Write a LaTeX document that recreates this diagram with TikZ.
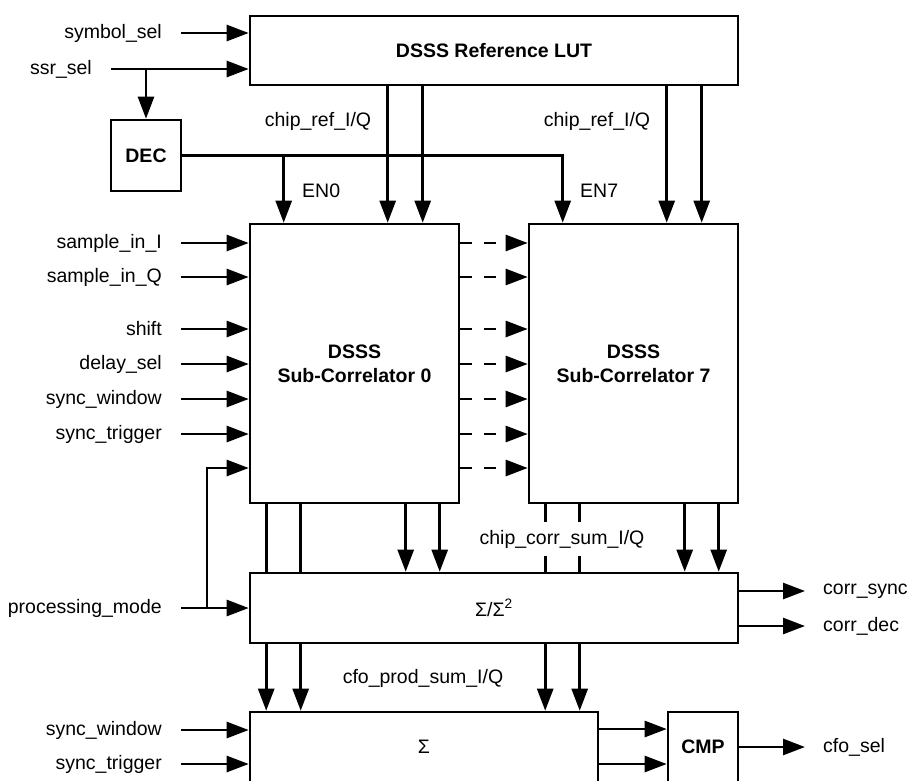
\documentclass[tikz,border=0pt]{standalone}
\usepackage{fontspec}
\setmainfont{Liberation Sans}
\usepackage{tikz}
\usetikzlibrary{arrows.meta,calc,positioning}
\newcommand\lblfont{\fontsize{19.5}{24}\selectfont}
\tikzset{
  blk/.style={draw,line width=2.6pt,inner sep=0pt,font=\lblfont},
  bblk/.style={blk,font=\lblfont\bfseries},
  wire/.style={line width=2.6pt},
  sig/.style={line width=2.6pt,-{Triangle[length=22pt,width=16pt]}},
  dsig/.style={sig,dash pattern=on 12pt off 12pt},
  inlbl/.style={anchor=east,inner sep=0pt},
  outlbl/.style={anchor=west,inner sep=0pt},
}

\begin{document}
\begin{tikzpicture}[x=1pt,y=-1pt,font=\lblfont]
\fill[white] (0,0) rectangle (907,780);
\useasboundingbox (0,0) rectangle (907,780);

\node[bblk,minimum width=488,minimum height=69] (lut) at (494,50.5) {DSSS Reference LUT};
\node[bblk,minimum width=70,minimum height=71] (dec) at (146,155.5) {DEC};
\node[bblk,minimum width=209,minimum height=279,align=center] (sub0) at (354.5,363.5) {DSSS\\Sub-Correlator 0};
\node[bblk,minimum width=209,minimum height=279,align=center] (sub7) at (633.5,363.5) {DSSS\\Sub-Correlator 7};
\node[blk,minimum width=488,minimum height=70] (sum) at (494,608) {Σ/Σ\textsuperscript{2}};
\node[blk,minimum width=348,minimum height=70] (acc) at (424,747) {Σ};
\node[bblk,minimum width=70,minimum height=70] (cmp) at (703,747) {CMP};

\node[inlbl] (symsel) at (162,33) {symbol\_sel};
\node[inlbl] (ssrsel) at (92,69) {ssr\_sel};
\draw[sig] ([xshift=19]symsel.east) -- (symsel -| lut.west);
\draw[sig] ([xshift=19]ssrsel.east) -- (ssrsel -| lut.west);
\draw[sig] (ssrsel -| dec.north) -- (dec.north);

\coordinate (en0) at ([xshift=35]sub0.north west);
\coordinate (en7) at ([xshift=35]sub7.north west);
\draw[sig] (dec.east) -| (en7);
\draw[sig] (dec.east -| en0) -- (en0);
\node[outlbl] (en0lbl) at (302,191) {EN0};
\node[outlbl] (en7lbl) at (580,191) {EN7};

\foreach \s in {sub0,sub7}{
  \foreach \dx in {139,174}{
    \coordinate (tap) at ([xshift=\dx]\s.north west);
    \draw[sig] (lut.south -| tap) -- (tap);
  }
}
\node (refa) at (318,121) {chip\_ref\_I/Q};
\node (refb) at (597,121) {chip\_ref\_I/Q};

\foreach \y/\t [count=\i] in {243/sample\_in\_I,277/sample\_in\_Q,329/shift,364/delay\_sel,399/sync\_window,434/sync\_trigger}{
  \node[inlbl] (in\i) at (162,\y) {\t};
  \draw[sig] ([xshift=19]in\i.east) -- (in\i -| sub0.west);
}
\foreach \y in {243,277,329,364,399,434,468}
  \draw[dsig] (sub0.east |- 0,\y) -- (sub7.west |- 0,\y);

\node[inlbl] (pmode) at (162,608) {processing\_mode};
\draw[sig] ([xshift=19]pmode.east) -- (pmode -| sum.west);
\coordinate (pmtap) at (207,608);
\coordinate (loopin) at (sub0.west |- 0,468);
\draw[sig] (pmtap) |- (loopin);

\foreach \s in {sub0,sub7}{
  \foreach \dx in {17.5,52}{
    \coordinate (tap) at ([xshift=\dx]\s.south west);
    \draw[wire] (tap) -- (tap |- sum.north);
    \draw[sig] (tap |- sum.south) -- (tap |- acc.north);
  }
  \foreach \dx in {157,191}{
    \coordinate (tap) at ([xshift=\dx]\s.south west);
    \draw[sig] (tap) -- (tap |- sum.north);
  }
}
\node[fill=white,inner sep=8pt] (corrlbl) at (562,539) {chip\_corr\_sum\_I/Q};
\node (cfolbl) at (423,678) {cfo\_prod\_sum\_I/Q};

\node[outlbl] (csync) at (823,591) {corr\_sync};
\node[outlbl] (cdec) at (823,626) {corr\_dec};
\draw[sig] (csync -| sum.east) -- ([xshift=-18]csync.west);
\draw[sig] (cdec -| sum.east) -- ([xshift=-18]cdec.west);

\node[inlbl] (swin) at (162,730) {sync\_window};
\node[inlbl] (strig) at (162,764) {sync\_trigger};
\draw[sig] ([xshift=19]swin.east) -- (swin -| acc.west);
\draw[sig] ([xshift=19]strig.east) -- (strig -| acc.west);

\foreach \y in {729,764}
  \draw[sig] (acc.east |- 0,\y) -- (cmp.west |- 0,\y);
\node[outlbl] (cfosel) at (823,747) {cfo\_sel};
\draw[sig] (cmp.east) -- ([xshift=-18]cfosel.west);
\end{tikzpicture}
\end{document}
